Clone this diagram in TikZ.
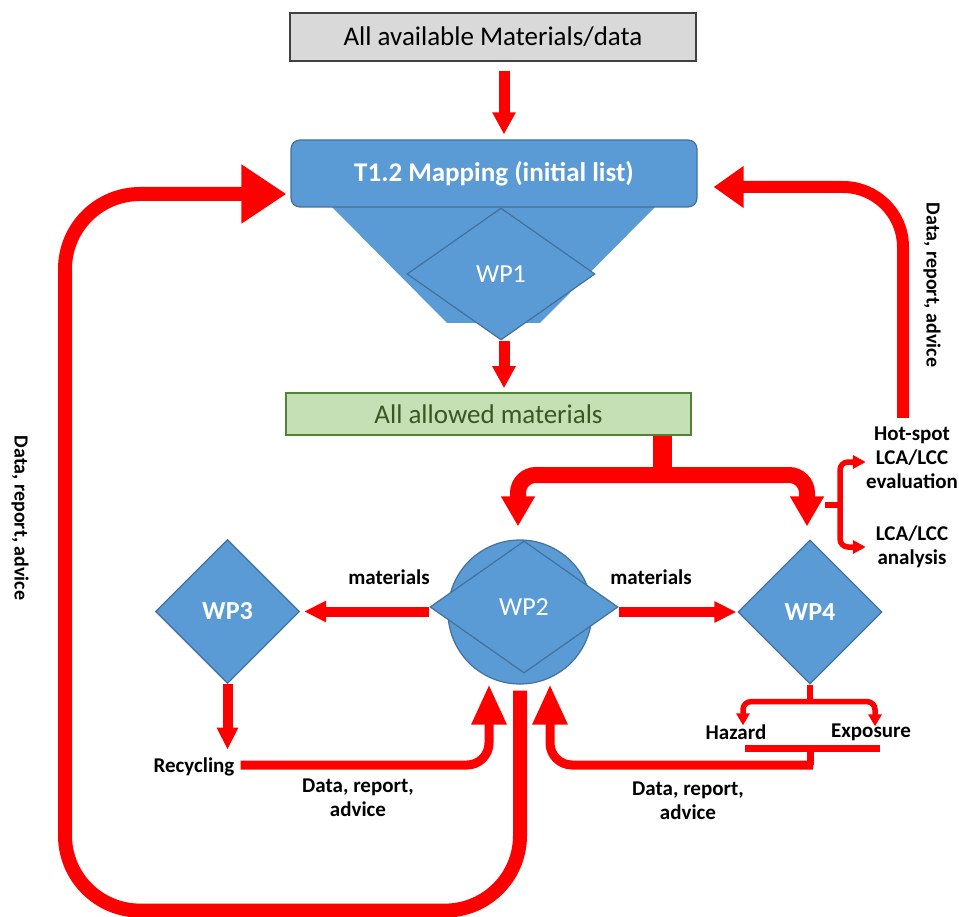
\documentclass[tikz,border=0pt]{standalone}
\usepackage{fontspec}
\setmainfont{Carlito}
\usetikzlibrary{arrows.meta,positioning,shapes.geometric,calc}
\definecolor{BoxBlue}{RGB}{91,155,213}
\definecolor{EdgeBlue}{RGB}{65,113,156}
\definecolor{BoxGray}{RGB}{217,217,217}
\definecolor{BoxGreen}{RGB}{197,224,180}
\definecolor{EdgeGreen}{RGB}{84,130,53}
\definecolor{TextGreen}{RGB}{56,87,35}
\definecolor{FlowRed}{RGB}{255,0,0}
\tikzset{
  graybox/.style={draw=black!75,fill=BoxGray,line width=1.5pt,minimum width=406pt,
    minimum height=48pt,font=\fontsize{27}{30}\selectfont},
  mapbox/.style={draw=EdgeBlue,fill=BoxBlue,line width=1.2pt,rounded corners=9pt,
    minimum width=406pt,minimum height=67pt,text=white,font=\fontsize{27}{30}\selectfont\bfseries},
  greenbox/.style={draw=EdgeGreen,fill=BoxGreen,line width=1.5pt,minimum width=405pt,
    minimum height=42pt,text=TextGreen,font=\fontsize{27}{30}\selectfont},
  wp/.style={diamond,draw=EdgeBlue,fill=BoxBlue,line width=1.2pt,inner sep=0pt,
    text=white,font=\fontsize{26}{30}\selectfont},
  wpbold/.style={wp,font=\fontsize{26}{30}\selectfont\bfseries,minimum width=144pt,minimum height=144pt},
  hub/.style={circle,draw=EdgeBlue,fill=BoxBlue,line width=1.2pt,minimum size=144pt,inner sep=0pt},
  lbl/.style={font=\fontsize{21}{24}\selectfont\bfseries,align=center,inner sep=0pt},
  sidelbl/.style={font=\fontsize{20}{24}\selectfont\bfseries,inner sep=0pt,rotate=-90},
  arrow/.style={-{Triangle[width=22pt,length=22pt]},line width=11pt,FlowRed},
  arrowmid/.style={-{Triangle[width=20pt,length=22pt]},line width=10pt,FlowRed},
  forkarrow/.style={-{Triangle[width=32pt,length=30pt]},line width=16pt,FlowRed,rounded corners=18pt},
  backarrow/.style={-{Triangle[width=33pt,length=40pt]},line width=9pt,FlowRed,rounded corners=22pt},
  bigback/.style={-{Triangle[width=56pt,length=45pt]},line width=14pt,FlowRed,rounded corners=75pt},
  sideback/.style={-{Triangle[width=40pt,length=30pt]},line width=12pt,FlowRed,rounded corners=60pt},
  hookline/.style={line width=5.5pt,FlowRed,rounded corners=8pt},
  barline/.style={line width=7pt,FlowRed}
}

\begin{document}
\begin{tikzpicture}[x=1pt,y=-1pt]
  \useasboundingbox (0,0) rectangle (959,917);
  % top part
  \node[graybox] (avail) at (493,37) {All available Materials/data};
  \fill[BoxBlue] (330,205) -- (657,205) -- (540,323) -- (447,323) -- cycle;
  \node[mapbox] (map) at (494,173.5) {T1.2 Mapping (initial list)};
  \node[wp,minimum width=188pt,minimum height=132pt] (wp1) at (501,274) {WP1};
  \node[greenbox] (allowed) at (488.5,414) {All allowed materials};
  % work packages
  \node[hub] (hub) at (520,612) {};
  \node[wp,minimum width=188pt,minimum height=132pt] (wp2) at (524,607) {WP2};
  \node[wpbold] (wp3) at (227.5,611.5) {WP3};
  \node[wpbold] (wp4) at (810,612) {WP4};
  % labels
  \node[lbl] (hot) at (912,458) {Hot-spot\\LCA/LCC\\evaluation};
  \node[lbl] (ana) at (912,547) {LCA/LCC\\analysis};
  \node[lbl] (haz) at (736,732) {Hazard};
  \node[lbl] (expo) at (871,732) {Exposure};
  \node[lbl] (recyc) at (194,767) {Recycling};
  \node[lbl] (matL) at (389,577) {materials};
  \node[lbl] (matR) at (651,577) {materials};
  \node[lbl] (dataL) at (358,798) {Data, report,\\advice};
  \node[lbl] (dataR) at (688,801) {Data, report,\\advice};
  \node[sidelbl] (sideL) at (20,518) {Data, report, advice};
  \node[sidelbl] (sideR) at (932,285) {Data, report, advice};

  % down the flow
  \draw[arrow] ([xshift=11pt,yshift=-9pt]avail.south) -- ([xshift=10pt,yshift=5pt]map.north);
  \draw[arrow] ([xshift=3pt]wp1.south) -- ([xshift=15.5pt,yshift=4pt]allowed.north);
  \coordinate (fork) at (662,475);
  \draw[FlowRed,line width=19pt] (allowed.south -| fork) -- ([yshift=-1pt]fork);
  \draw[forkarrow] (fork) -| ([xshift=-2pt,yshift=13pt]hub.north);
  \draw[forkarrow] (fork) -| ([xshift=-3pt,yshift=13pt]wp4.north);

  % materials out of WP2
  \draw[arrowmid] (wp2.west |- wp3.east) -- ([xshift=4pt]wp3.east);
  \draw[arrowmid] (wp2.east |- wp4.west) -- ([xshift=-1pt]wp4.west);
  \draw[arrowmid] (wp3.south) -- ($(wp3.south |- recyc.north)+(0,-8)$);

  % back into WP2
  \coordinate (inL) at ([xshift=-31pt]hub.south);
  \coordinate (inR) at ([xshift=30pt]hub.south);
  \draw[backarrow] ([xshift=6pt,yshift=2pt]recyc.east) -| (inL);
  \coordinate (he) at ([yshift=-17pt]wp4.south);
  \draw[hookline] (wp4.south) -- (he);
  \draw[hookline,-{Triangle[width=13pt,length=12pt]}] (he) -| ([xshift=7pt,yshift=-1pt]haz.north);
  \draw[hookline,-{Triangle[width=13pt,length=12pt]}] (he) -| ([xshift=4pt,yshift=-3pt]expo.north);
  \coordinate (barM) at (810,748);
  \draw[barline] ($(barM)+(-65,0)$) -- ($(barM)+(70,0)$);
  \draw[barline] (barM) -- ++(0,17) coordinate (barJ);
  \draw[backarrow] ([xshift=3pt]barJ) -| (inR);

  % LCA/LCC
  \coordinate (brk) at (840,505);
  \draw[hookline] (brk) -- ++(-15,0);
  \draw[hookline,-{Triangle[width=13pt,length=13pt]}] (brk) |- ([yshift=-4pt]hot.west);
  \draw[hookline,-{Triangle[width=13pt,length=13pt]}] (brk) |- (hot.west |- ana.west);

  % feedback to the mapping
  \coordinate (fbL) at ([xshift=-4pt,yshift=-20.5pt]map.west);
  \draw[bigback] ([yshift=-6pt]hub.south) -- ++(0,220) -- ++(-455,0) |- (fbL);
  \coordinate (fbR) at ([xshift=16pt,yshift=-13.5pt]map.east);
  \draw[sideback] ([xshift=-9pt,yshift=9pt]hot.north) |- (fbR);
\end{tikzpicture}
\end{document}
